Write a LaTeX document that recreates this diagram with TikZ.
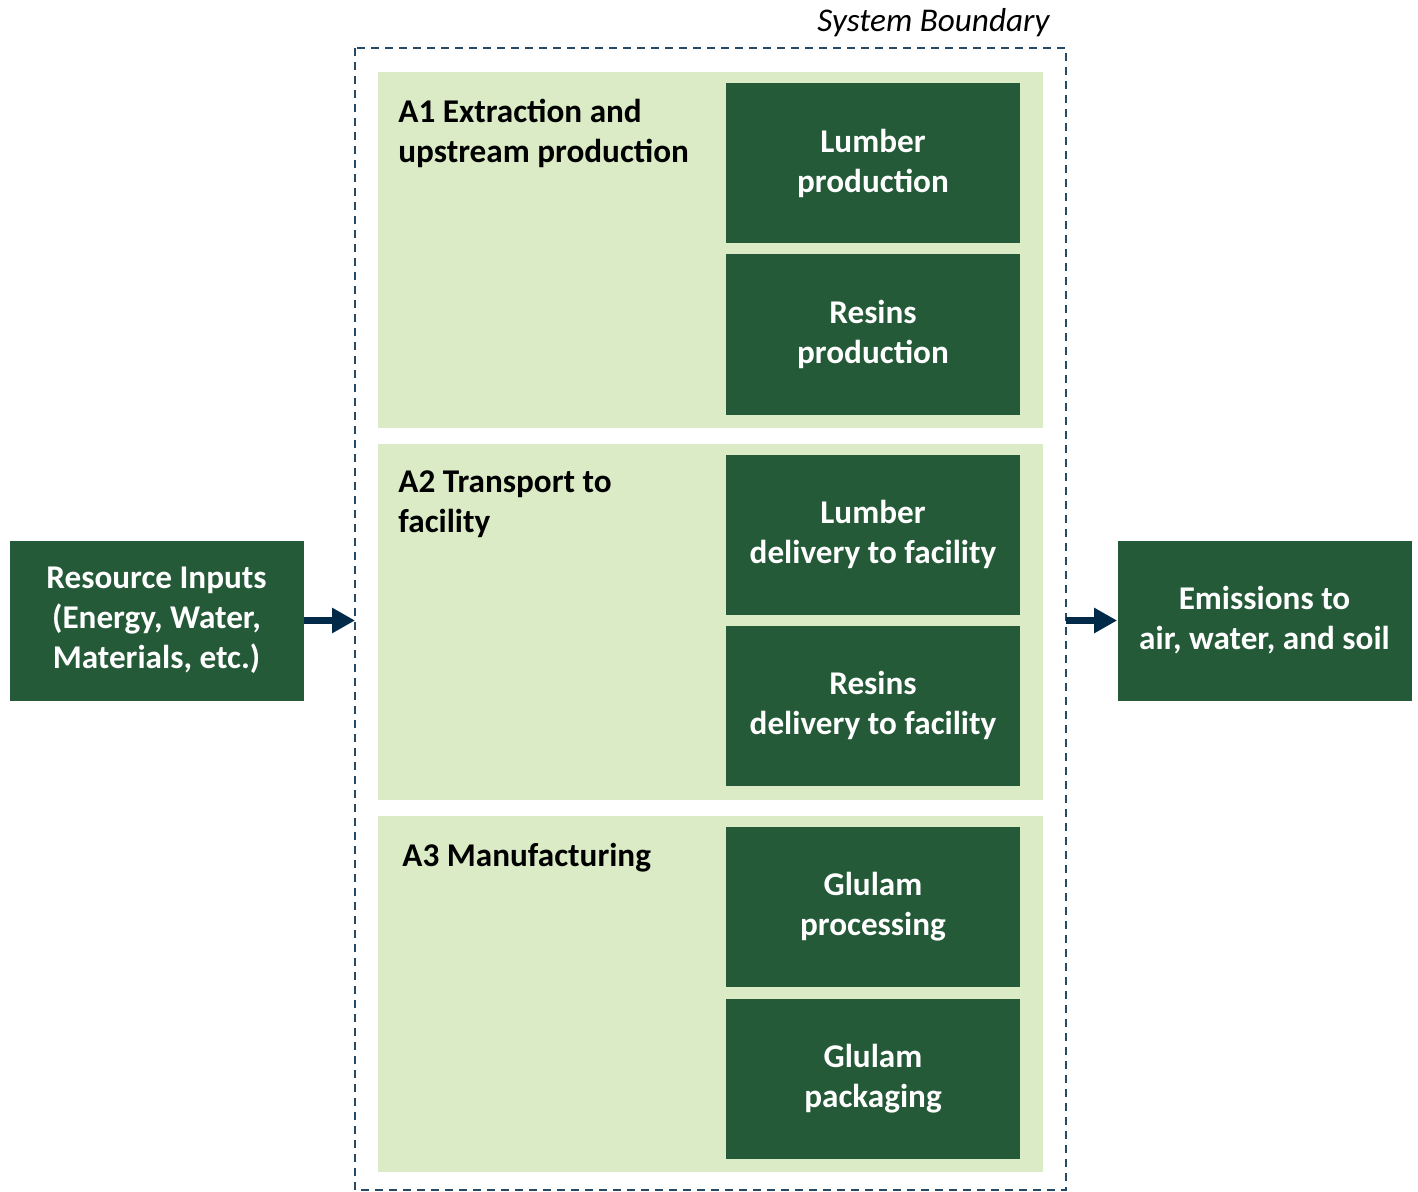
\documentclass[tikz,border=0pt]{standalone}
\usepackage{fontspec}
\setmainfont{Carlito}
\usetikzlibrary{arrows.meta,positioning}

\definecolor{darkgreen}{HTML}{245A38}
\definecolor{lightgreen}{HTML}{DAEBC6}
\definecolor{navy}{HTML}{002A47}

\begin{document}
\begin{tikzpicture}[x=0.5pt, y=-0.5pt,
                    phase node/.style={fill=lightgreen, inner sep=0, minimum width=332.5pt, minimum height=178pt},
                    step node/.style={fill=darkgreen, text=white, inner sep=0, minimum width=147pt, minimum height=80pt,
                                      align=center, font=\bfseries\fontsize{16.6}{20}\selectfont},
                    label node/.style={anchor=north west, inner sep=0, align=left, font=\bfseries\fontsize{16.6}{20}\selectfont},
                    flow/.style={navy, line width=3.5pt, -{Triangle[length=11.5pt, width=12pt]}}]

  \useasboundingbox (0,0) rectangle (1418,1192);

  % system boundary
  \draw[color=navy!85, line width=1pt, dash pattern=on 4pt off 3pt] (355,48) rectangle (1066,1190);
  \node[anchor=base east, inner sep=0, font=\itshape\fontsize{16.6}{18}\selectfont] (sb) at (1050,32) {System Boundary};

  % phases
  \node[phase node] (A1) at (710.5,250) {};
  \node[phase node] (A2) at (710.5,622) {};
  \node[phase node] (A3) at (710.5,993.5) {};

  \node[label node] (A1 label) at (398,99) {A1 Extraction and\\upstream production};
  \node[label node] (A2 label) at (398,470) {A2 Transport to\\facility};
  \node[label node] (A3 label) at (402,843) {A3 Manufacturing};

  % process steps
  \node[step node] (1) at (873,163) {Lumber\\production};
  \node[step node] (2) at (873,334.5) {Resins\\production};
  \node[step node] (3) at (873,534.5) {Lumber\\delivery to facility};
  \node[step node] (4) at (873,705.5) {Resins\\delivery to facility};
  \node[step node] (5) at (873,906.5) {Glulam\\processing};
  \node[step node] (6) at (873,1078.5) {Glulam\\packaging};

  % inputs and outputs
  \node[step node] (in) at (156.5,620.5) {Resource Inputs\\(Energy, Water,\\Materials, etc.)};
  \node[step node] (out) at (1264.5,620.5) {Emissions to\\air, water, and soil};

  \coordinate (b west) at (355,620.5);
  \coordinate (b east) at (1066,620.5);

  \draw[flow] (in.east) -- (b west);
  \draw[flow] (b east) -- (out.west);
\end{tikzpicture}
\end{document}
